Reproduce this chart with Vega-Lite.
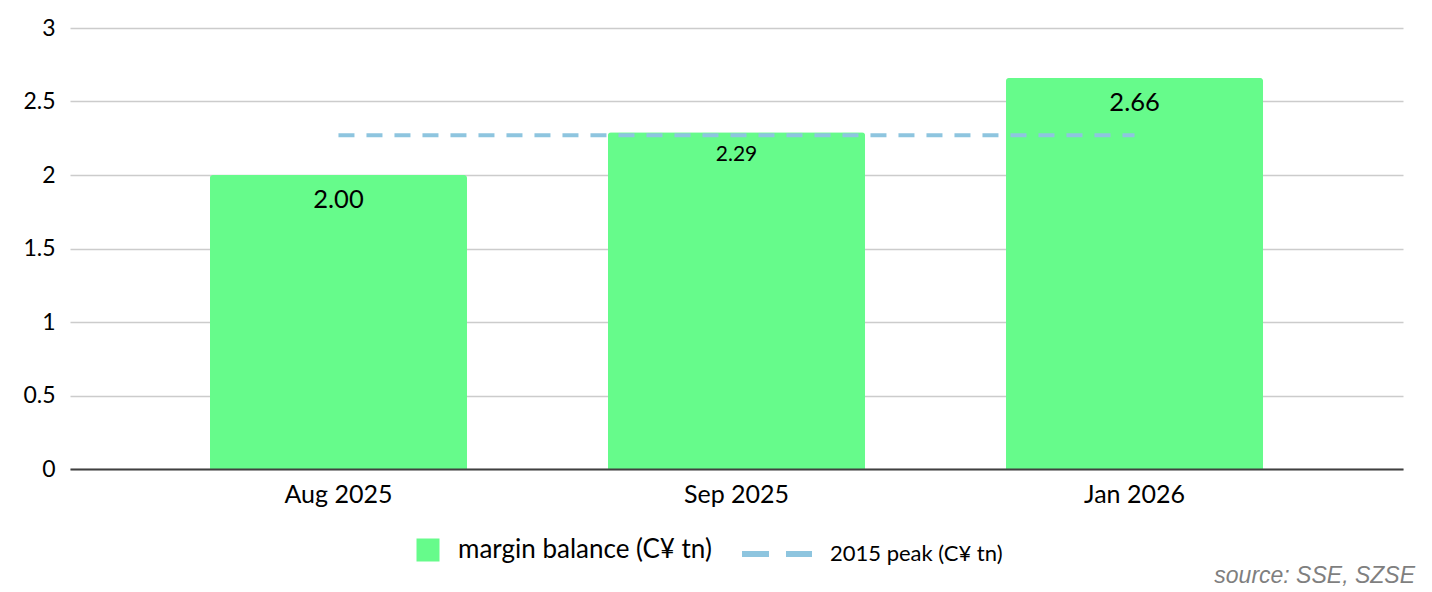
{
  "$schema": "https://vega.github.io/schema/vega-lite/v6.json",
  "width": 1333,
  "height": 441,
  "autosize": {"type": "none"},
  "padding": {"left": 70, "top": 28, "right": 29, "bottom": 123},
  "background": "white",
  "config": {
    "view": {"stroke": null},
    "font": "Lato"
  },
  "title": {
    "text": "source: SSE, SZSE",
    "orient": "bottom",
    "anchor": "end",
    "frame": "group",
    "font": "Liberation Sans",
    "fontSize": 23,
    "fontStyle": "italic",
    "fontWeight": "normal",
    "color": "#7f7f7f",
    "dx": 12,
    "offset": -1
  },
  "data": {
    "values": [
      {"month": "Aug 2025", "balance": 2.00, "peak": 2.27},
      {"month": "Sep 2025", "balance": 2.29, "peak": 2.27},
      {"month": "Jan 2026", "balance": 2.66, "peak": 2.27}
    ]
  },
  "encoding": {
    "x": {
      "field": "month",
      "type": "nominal",
      "sort": null,
      "scale": {"paddingInner": 0.354, "paddingOuter": 0.3515},
      "axis": {
        "title": null,
        "labelAngle": 0,
        "labelFont": "Lato",
        "labelFontSize": 25,
        "labelColor": "#000000",
        "labelPadding": 13,
        "ticks": false,
        "grid": false,
        "domain": true,
        "domainColor": "#404040",
        "domainWidth": 2,
        "zindex": 1
      }
    }
  },
  "layer": [
    {
      "mark": {"type": "bar", "cornerRadiusTopLeft": 3, "cornerRadiusTopRight": 3},
      "encoding": {
        "y": {
          "field": "balance",
          "type": "quantitative",
          "scale": {"domain": [0, 3], "nice": false},
          "axis": {
            "title": null,
            "values": [0, 0.5, 1, 1.5, 2, 2.5, 3],
            "format": "~g",
            "labelFont": "Lato",
            "labelFontSize": 23,
            "labelColor": "#000000",
            "labelPadding": 15,
            "ticks": false,
            "domain": false,
            "grid": true,
            "gridColor": "#cccccc",
            "gridWidth": 1.5
          }
        },
        "fill": {
          "datum": "margin balance (C¥ tn)",
          "scale": {"range": ["#66fb8b"]},
          "legend": {
            "title": null,
            "orient": "none",
            "legendX": 345,
            "legendY": 509,
            "padding": 0,
            "symbolType": "square",
            "symbolSize": 529,
            "symbolStrokeWidth": 0,
            "labelFont": "Lato",
            "labelFontSize": 26,
            "labelColor": "#000000",
            "labelOffset": 17,
            "labelLimit": 400
          }
        }
      }
    },
    {
      "mark": {"type": "line", "strokeDash": [16, 12], "strokeWidth": 4},
      "encoding": {
        "y": {"field": "peak", "type": "quantitative"},
        "stroke": {
          "datum": "2015 peak (C¥ tn)",
          "scale": {"range": ["#8ec5df"]},
          "legend": {
            "title": null,
            "orient": "none",
            "legendX": 669,
            "legendY": 488,
            "padding": 0,
            "symbolType": "stroke",
            "symbolSize": 4900,
            "symbolStrokeWidth": 6,
            "symbolDash": [27, 17],
            "labelFont": "Lato",
            "labelFontSize": 22,
            "labelColor": "#000000",
            "labelOffset": 15,
            "labelLimit": 400
          }
        }
      }
    },
    {
      "transform": [{"filter": "datum.month !== 'Sep 2025'"}],
      "mark": {"type": "text", "baseline": "middle", "align": "center", "color": "#000000", "font": "Lato", "fontSize": 25.5, "dy": 25},
      "encoding": {
        "y": {"field": "balance", "type": "quantitative"},
        "text": {"field": "balance", "type": "quantitative", "format": ".2f"}
      }
    },
    {
      "transform": [{"filter": "datum.month === 'Sep 2025'"}],
      "mark": {"type": "text", "baseline": "middle", "align": "center", "color": "#000000", "font": "Lato", "fontSize": 21, "dy": 23},
      "encoding": {
        "y": {"field": "balance", "type": "quantitative"},
        "text": {"field": "balance", "type": "quantitative", "format": ".2f"}
      }
    }
  ]
}
